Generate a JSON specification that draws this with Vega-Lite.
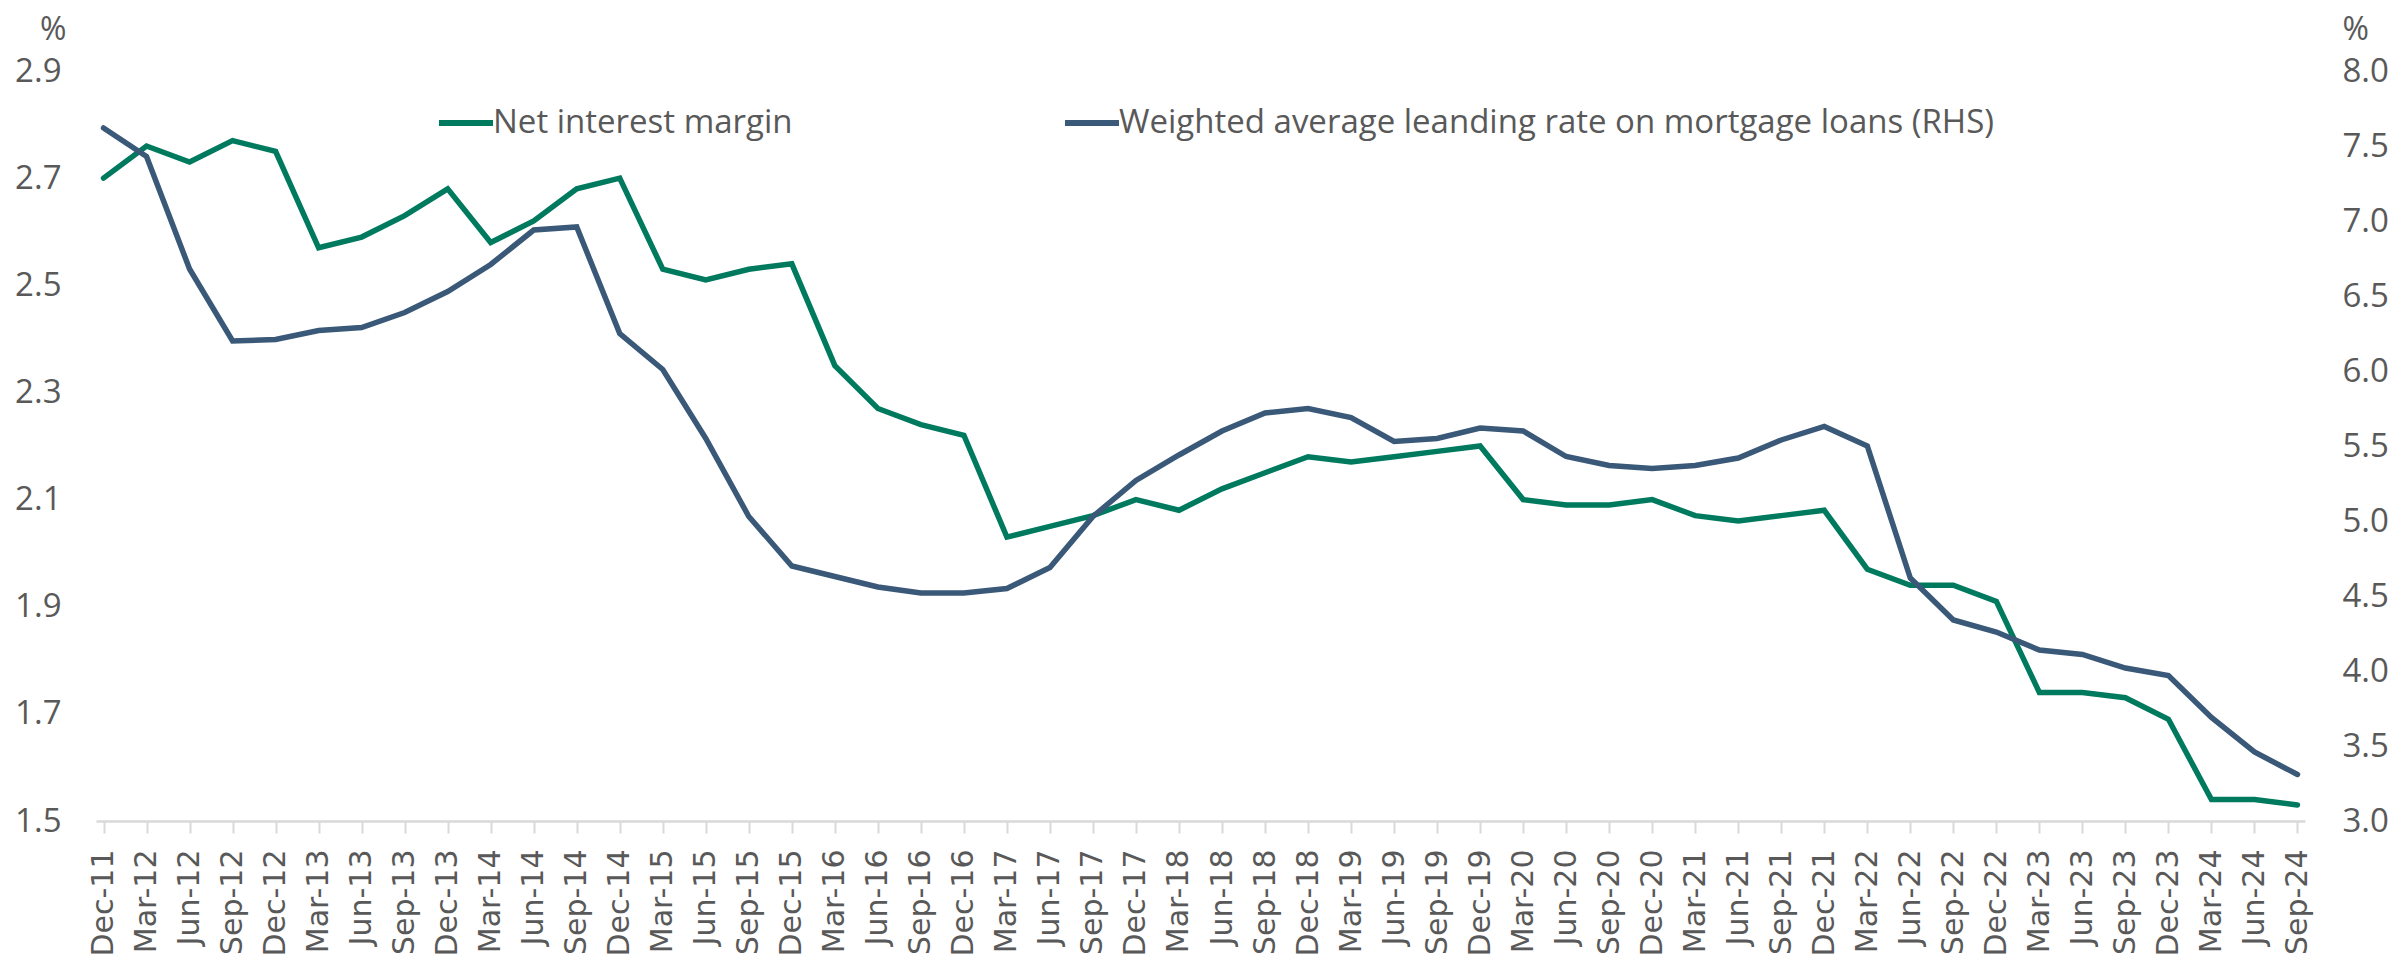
{
  "$schema": "https://vega.github.io/schema/vega-lite/v6.json",
  "width": 2209,
  "height": 750,
  "autosize": {"type": "none"},
  "padding": {"left": 96, "top": 71, "right": 87, "bottom": 135},
  "background": "white",
  "config": {"view": {"stroke": null}, "font": "Open Sans"},
  "data": {"values": [
    {"q": "Dec-11", "nim": 2.70, "rate": 7.62},
    {"q": "Mar-12", "nim": 2.76, "rate": 7.43},
    {"q": "Jun-12", "nim": 2.73, "rate": 6.68},
    {"q": "Sep-12", "nim": 2.77, "rate": 6.20},
    {"q": "Dec-12", "nim": 2.75, "rate": 6.21},
    {"q": "Mar-13", "nim": 2.57, "rate": 6.27},
    {"q": "Jun-13", "nim": 2.59, "rate": 6.29},
    {"q": "Sep-13", "nim": 2.63, "rate": 6.39},
    {"q": "Dec-13", "nim": 2.68, "rate": 6.53},
    {"q": "Mar-14", "nim": 2.58, "rate": 6.71},
    {"q": "Jun-14", "nim": 2.62, "rate": 6.94},
    {"q": "Sep-14", "nim": 2.68, "rate": 6.96},
    {"q": "Dec-14", "nim": 2.70, "rate": 6.25},
    {"q": "Mar-15", "nim": 2.53, "rate": 6.01},
    {"q": "Jun-15", "nim": 2.51, "rate": 5.55},
    {"q": "Sep-15", "nim": 2.53, "rate": 5.03},
    {"q": "Dec-15", "nim": 2.54, "rate": 4.70},
    {"q": "Mar-16", "nim": 2.35, "rate": 4.63},
    {"q": "Jun-16", "nim": 2.27, "rate": 4.56},
    {"q": "Sep-16", "nim": 2.24, "rate": 4.52},
    {"q": "Dec-16", "nim": 2.22, "rate": 4.52},
    {"q": "Mar-17", "nim": 2.03, "rate": 4.55},
    {"q": "Jun-17", "nim": 2.05, "rate": 4.69},
    {"q": "Sep-17", "nim": 2.07, "rate": 5.03},
    {"q": "Dec-17", "nim": 2.10, "rate": 5.27},
    {"q": "Mar-18", "nim": 2.08, "rate": 5.44},
    {"q": "Jun-18", "nim": 2.12, "rate": 5.60},
    {"q": "Sep-18", "nim": 2.15, "rate": 5.72},
    {"q": "Dec-18", "nim": 2.18, "rate": 5.75},
    {"q": "Mar-19", "nim": 2.17, "rate": 5.69},
    {"q": "Jun-19", "nim": 2.18, "rate": 5.53},
    {"q": "Sep-19", "nim": 2.19, "rate": 5.55},
    {"q": "Dec-19", "nim": 2.20, "rate": 5.62},
    {"q": "Mar-20", "nim": 2.10, "rate": 5.60},
    {"q": "Jun-20", "nim": 2.09, "rate": 5.43},
    {"q": "Sep-20", "nim": 2.09, "rate": 5.37},
    {"q": "Dec-20", "nim": 2.10, "rate": 5.35},
    {"q": "Mar-21", "nim": 2.07, "rate": 5.37},
    {"q": "Jun-21", "nim": 2.06, "rate": 5.42},
    {"q": "Sep-21", "nim": 2.07, "rate": 5.54},
    {"q": "Dec-21", "nim": 2.08, "rate": 5.63},
    {"q": "Mar-22", "nim": 1.97, "rate": 5.50},
    {"q": "Jun-22", "nim": 1.94, "rate": 4.62},
    {"q": "Sep-22", "nim": 1.94, "rate": 4.34},
    {"q": "Dec-22", "nim": 1.91, "rate": 4.26},
    {"q": "Mar-23", "nim": 1.74, "rate": 4.14},
    {"q": "Jun-23", "nim": 1.74, "rate": 4.11},
    {"q": "Sep-23", "nim": 1.73, "rate": 4.02},
    {"q": "Dec-23", "nim": 1.69, "rate": 3.97},
    {"q": "Mar-24", "nim": 1.54, "rate": 3.69},
    {"q": "Jun-24", "nim": 1.54, "rate": 3.46},
    {"q": "Sep-24", "nim": 1.53, "rate": 3.31}
  ]},
  "encoding": {
    "x": {
      "field": "q",
      "type": "ordinal",
      "sort": null,
      "scale": {"type": "point", "padding": 0.175},
      "axis": {
        "title": null,
        "labelAngle": -90,
        "labelFont": "DejaVu Sans",
        "labelFontSize": 30,
        "labelColor": "#595959",
        "labelPadding": 16,
        "labelOverlap": false,
        "tickColor": "#d9d9d9",
        "tickSize": 12,
        "tickWidth": 2,
        "domainColor": "#d9d9d9",
        "domainWidth": 2.5,
        "grid": false
      }
    }
  },
  "layer": [
    {
      "mark": {"type": "line", "strokeWidth": 5.5, "strokeCap": "round"},
      "encoding": {
        "y": {
          "field": "nim",
          "type": "quantitative",
          "scale": {"domain": [1.5, 2.9], "nice": false, "zero": false},
          "axis": {
            "orient": "left",
            "values": [1.5, 1.7, 1.9, 2.1, 2.3, 2.5, 2.7, 2.9],
            "format": ".1f",
            "domain": false,
            "ticks": false,
            "grid": false,
            "labelFont": "Open Sans",
            "labelFontSize": 33,
            "labelColor": "#595959",
            "labelPadding": 35,
            "title": "%",
            "titleAngle": 0,
            "titleX": -30,
            "titleY": -42,
            "titleAlign": "right",
            "titleBaseline": "middle",
            "titleFont": "Open Sans",
            "titleFontSize": 32,
            "titleFontWeight": "normal",
            "titleColor": "#595959"
          }
        },
        "color": {
          "datum": "Net interest margin",
          "type": "nominal",
          "scale": {
            "domain": ["Net interest margin", "Weighted average leanding rate on mortgage loans (RHS)"],
            "range": ["#007A5E", "#3A5878"]
          },
          "legend": {
            "orient": "none",
            "legendX": 340,
            "legendY": 22,
            "direction": "horizontal",
            "title": null,
            "symbolType": "stroke",
            "symbolSize": 2916,
            "symbolStrokeWidth": 6,
            "labelFont": "Open Sans",
            "labelFontSize": 33,
            "labelColor": "#595959",
            "labelOffset": -3,
            "labelLimit": 1200,
            "columnPadding": 260
          }
        }
      }
    },
    {
      "mark": {"type": "line", "strokeWidth": 5.5, "strokeCap": "round"},
      "encoding": {
        "y": {
          "field": "rate",
          "type": "quantitative",
          "scale": {"domain": [3, 8], "nice": false, "zero": false},
          "axis": {
            "orient": "right",
            "values": [3, 3.5, 4, 4.5, 5, 5.5, 6, 6.5, 7, 7.5, 8],
            "format": ".1f",
            "domain": false,
            "ticks": false,
            "grid": false,
            "labelFont": "Open Sans",
            "labelFontSize": 33,
            "labelColor": "#595959",
            "labelPadding": 37,
            "title": "%",
            "titleAngle": 0,
            "titleX": 37,
            "titleY": -42,
            "titleAlign": "left",
            "titleBaseline": "middle",
            "titleFont": "Open Sans",
            "titleFontSize": 32,
            "titleFontWeight": "normal",
            "titleColor": "#595959"
          }
        },
        "color": {"datum": "Weighted average leanding rate on mortgage loans (RHS)", "type": "nominal"}
      }
    }
  ],
  "resolve": {"scale": {"y": "independent"}}
}
